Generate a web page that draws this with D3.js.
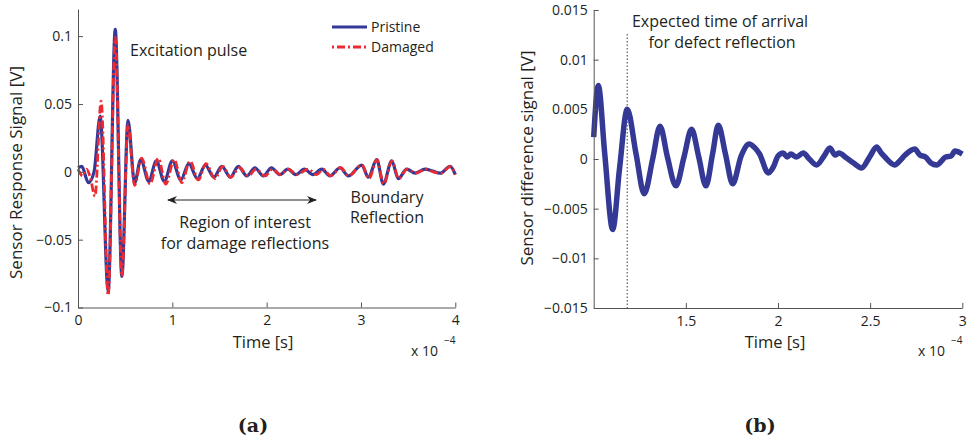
<!DOCTYPE html>
<html>
<head>
<meta charset="utf-8">
<script src="https://cdn.jsdelivr.net/npm/d3@7"></script>
<style>
  body { margin: 0; background: #fff; }
  text { font-family: "Open Sans", "Noto Sans", sans-serif; fill: #231f20; }
  .axis path, .axis line { stroke: #555; }
  .axis text { font-size: 14px; font-family: "Open Sans", "Noto Sans", sans-serif; fill: #231f20; }
</style>
</head>
<body>
<div class="forSvg"></div>
<script>
// -DATA-
// panel (a): time in units of 1e-4 s, signal in V (peaks / troughs)
const pristineT = [0, 0.04, 0.11, 0.17, 0.235, 0.32, 0.395, 0.465, 0.53, 0.6, 0.665, 0.75, 0.83, 0.915, 1.0, 1.09, 1.175, 1.265, 1.35, 1.44, 1.525, 1.615, 1.70, 1.79, 1.875, 1.965, 2.05, 2.14, 2.225, 2.31, 2.40, 2.49, 2.584, 2.672, 2.778, 2.866, 3.008, 3.078, 3.167, 3.237, 3.326, 3.396, 3.485, 3.574, 3.68, 3.76, 3.839, 3.945, 4.0];
const pristineV = [0.003, 0.004, -0.008, 0.0, 0.041, -0.088, 0.105, -0.077, 0.038, -0.008, 0.009, -0.007, 0.008, -0.007, 0.008, -0.006, 0.006, -0.005, 0.005, -0.004, 0.004, -0.004, 0.004, -0.003, 0.003, -0.003, 0.003, -0.002, 0.002, -0.002, 0.002, -0.002, 0.002, -0.003, 0.003, -0.003, 0.005, -0.004, 0.009, -0.009, 0.008, -0.005, 0.002, -0.001, 0.002, 0.0005, -0.001, 0.004, -0.002];

const damagedT = [0, 0.05, 0.09, 0.13, 0.18, 0.245, 0.32, 0.395, 0.465, 0.53, 0.6, 0.675, 0.764, 0.852, 0.93, 1.02, 1.1, 1.188, 1.276, 1.357, 1.453, 1.534, 1.619, 1.71, 1.806, 1.888, 1.983, 2.064, 2.142, 2.23, 2.319, 2.44, 2.53, 2.6, 2.68, 2.785, 2.87, 3.01, 3.085, 3.17, 3.24, 3.33, 3.40, 3.49, 3.58, 3.685, 3.765, 3.845, 3.95, 4.0];
const damagedV = [0.002, -0.003, 0.002, -0.004, -0.018, 0.052, -0.091, 0.099, -0.077, 0.035, -0.010, 0.010, -0.009, 0.010, -0.009, 0.009, -0.008, 0.008, -0.006, 0.006, -0.005, 0.004, -0.004, 0.003, -0.003, 0.002, -0.003, 0.002, -0.002, 0.002, -0.002, 0.002, -0.002, 0.002, -0.003, 0.003, -0.003, 0.005, -0.005, 0.009, -0.009, 0.008, -0.005, 0.002, -0.001, 0.002, 0.0, -0.001, 0.004, -0.002];

// panel (b): difference signal (with the small wiggles of the noisy tail)
const diffT = [1.0, 1.025, 1.06, 1.103, 1.14, 1.182, 1.23, 1.274, 1.32, 1.36, 1.40, 1.446, 1.49, 1.531, 1.57, 1.609, 1.645, 1.676, 1.715, 1.754, 1.80, 1.844, 1.87, 1.90, 1.947, 1.975, 2.0, 2.028, 2.05, 2.07, 2.10, 2.137, 2.17, 2.209, 2.25, 2.281, 2.31, 2.33, 2.372, 2.41, 2.453, 2.50, 2.535, 2.56, 2.58, 2.634, 2.66, 2.69, 2.742, 2.77, 2.80, 2.83, 2.86, 2.91, 2.94, 2.96, 3.0];
const diffV = [0.0022, 0.0074, 0.0005, -0.0071, -0.001, 0.0050, 0.0005, -0.0035, 0.0, 0.0033, 0.0002, -0.0027, 0.0002, 0.0030, 0.0002, -0.0027, 0.0005, 0.0034, 0.0005, -0.0025, 0.0003, 0.0015, 0.0012, 0.0005, -0.0014, -0.0008, 0.0003, 0.0006, 0.0002, 0.0005, 0.0002, 0.0006, 0.0, -0.0006, 0.0003, 0.0011, 0.0004, 0.0006, 0.0001, -0.0004, -0.0009, 0.0003, 0.0012, 0.0006, 0.0002, -0.0006, -0.0002, 0.0004, 0.0010, 0.0004, 0.0002, -0.0004, -0.0006, 0.0002, 0.0003, 0.0008, 0.0005];

// tick values
const ticksAx = [0, 1, 2, 3, 4];
const ticksAy = [-0.1, -0.05, 0, 0.05, 0.1];
const ticksBx = [1.5, 2, 2.5, 3];
const ticksBy = [-0.015, -0.01, -0.005, 0, 0.005, 0.01, 0.015];

// defect arrival line in panel (b)
const arrivalT = 1.182;

// -CREATE VARIABLES-
const svg_w = 967;
const svg_h = 446;

const blue = "#333995";
const red = "#ec2a32";

// tick label with a real minus sign
const fmt = d => d < 0 ? "\u2212" + String(Math.abs(d)) : String(d);

const svg = d3.select(".forSvg")
    .append("svg")
    .attr("width", svg_w)
    .attr("height", svg_h);

svg.append("rect").attr("width", svg_w).attr("height", svg_h).attr("fill", "#fff");

// arrow marker
const defs = svg.append("defs");
defs.append("marker")
    .attr("id", "arrow")
    .attr("viewBox", "0 0 10 10")
    .attr("refX", 9).attr("refY", 5)
    .attr("markerWidth", 10).attr("markerHeight", 10)
    .attr("markerUnits", "userSpaceOnUse")
    .attr("orient", "auto-start-reverse")
    .append("path")
    .attr("d", "M0,1 L10,5 L0,9 L3,5 Z")
    .attr("fill", "#231f20");

// -PANEL A-
const xA = d3.scaleLinear().domain([0, 4]).range([78, 455.3]);
const yA = d3.scaleLinear().domain([-0.1, 0.12]).range([307.5, 9]);

const lineA = d3.line()
    .x(d => xA(d[0]))
    .y(d => yA(d[1]))
    .curve(d3.curveMonotoneX);

svg.append("path")
    .datum(d3.zip(pristineT, pristineV))
    .attr("d", lineA)
    .attr("fill", "none")
    .attr("stroke", blue)
    .attr("stroke-width", 3.2);

svg.append("path")
    .datum(d3.zip(damagedT, damagedV))
    .attr("d", lineA)
    .attr("fill", "none")
    .attr("stroke", red)
    .attr("stroke-width", 2.8)
    .attr("stroke-dasharray", "8,3,2,3");

svg.append("g")
    .attr("class", "axis")
    .attr("transform", "translate(0," + yA(-0.1) + ")")
    .call(d3.axisBottom(xA).tickValues(ticksAx).tickFormat(fmt).tickSizeInner(-5).tickSizeOuter(0).tickPadding(8));

svg.append("g")
    .attr("class", "axis")
    .attr("transform", "translate(" + xA(0) + ",0)")
    .call(d3.axisLeft(yA).tickValues(ticksAy).tickFormat(fmt).tickSizeInner(-5).tickSizeOuter(0).tickPadding(6));

// labels a
svg.append("text")
    .attr("transform", "translate(22," + yA(-0.0005) + ") rotate(-90)")
    .attr("text-anchor", "middle")
    .attr("font-size", "17px")
    .text("Sensor Response Signal [V]");

svg.append("text")
    .attr("x", 263).attr("y", 348)
    .attr("text-anchor", "middle")
    .attr("font-size", "16.5px")
    .text("Time [s]");

svg.append("text").attr("x", 411).attr("y", 356).attr("font-size", "14px").text("x 10");
svg.append("text").attr("x", 444).attr("y", 344).attr("font-size", "10px").text("\u22124");

// legend
const legend = svg.append("g").attr("transform", "translate(332,0)");
legend.append("line").attr("x1", 0).attr("x2", 35).attr("y1", 27).attr("y2", 27)
    .attr("stroke", blue).attr("stroke-width", 3);
legend.append("line").attr("x1", 0).attr("x2", 35).attr("y1", 47).attr("y2", 47)
    .attr("stroke", red).attr("stroke-width", 2.8).attr("stroke-dasharray", "2,3,8,3");
legend.append("text").attr("x", 39).attr("y", 32).attr("font-size", "14px").text("Pristine");
legend.append("text").attr("x", 39).attr("y", 52).attr("font-size", "14px").text("Damaged");

// annotations a
svg.append("text").attr("x", 130).attr("y", 56).attr("font-size", "16px").text("Excitation pulse");

svg.append("line")
    .attr("x1", 168).attr("x2", 316).attr("y1", 200).attr("y2", 200)
    .attr("stroke", "#231f20").attr("stroke-width", 1)
    .attr("marker-start", "url(#arrow)")
    .attr("marker-end", "url(#arrow)");

svg.append("text").attr("x", 245).attr("y", 228).attr("text-anchor", "middle").attr("font-size", "16px").text("Region of interest");
svg.append("text").attr("x", 245).attr("y", 249).attr("text-anchor", "middle").attr("font-size", "16px").text("for damage reflections");
svg.append("text").attr("x", 387).attr("y", 203).attr("text-anchor", "middle").attr("font-size", "16px").text("Boundary");
svg.append("text").attr("x", 387).attr("y", 223).attr("text-anchor", "middle").attr("font-size", "16px").text("Reflection");

// -PANEL B-
const xB = d3.scaleLinear().domain([1.0, 3.0]).range([593.7, 962.3]);
const yB = d3.scaleLinear().domain([-0.015, 0.015]).range([308, 10]);

// dotted line for expected arrival
svg.append("line")
    .attr("x1", xB(arrivalT)).attr("x2", xB(arrivalT))
    .attr("y1", 34).attr("y2", yB(-0.015))
    .attr("stroke", "#666").attr("stroke-width", 1.3)
    .attr("stroke-dasharray", "1.5,2");

const lineB = d3.line()
    .x(d => xB(d[0]))
    .y(d => yB(d[1]))
    .curve(d3.curveMonotoneX);

svg.append("path")
    .datum(d3.zip(diffT, diffV))
    .attr("d", lineB)
    .attr("fill", "none")
    .attr("stroke", blue)
    .attr("stroke-width", 5.5)
    .attr("stroke-linejoin", "round");

svg.append("g")
    .attr("class", "axis")
    .attr("transform", "translate(0," + yB(-0.015) + ")")
    .call(d3.axisBottom(xB).tickValues(ticksBx).tickFormat(fmt).tickSizeInner(-5).tickSizeOuter(0).tickPadding(8));

svg.append("g")
    .attr("class", "axis")
    .attr("transform", "translate(" + xB(1.0) + ",0)")
    .call(d3.axisLeft(yB).tickValues(ticksBy).tickFormat(fmt).tickSizeInner(-5).tickSizeOuter(0).tickPadding(6));

svg.append("text")
    .attr("transform", "translate(533,158) rotate(-90)")
    .attr("text-anchor", "middle")
    .attr("font-size", "17px")
    .text("Sensor difference signal [V]");

svg.append("text")
    .attr("x", 775).attr("y", 348)
    .attr("text-anchor", "middle")
    .attr("font-size", "16.5px")
    .text("Time [s]");

svg.append("text").attr("x", 918).attr("y", 356).attr("font-size", "14px").text("x 10");
svg.append("text").attr("x", 951).attr("y", 344).attr("font-size", "10px").text("\u22124");

svg.append("text").attr("x", 720).attr("y", 27).attr("text-anchor", "middle").attr("font-size", "16px").text("Expected time of arrival");
svg.append("text").attr("x", 722).attr("y", 48).attr("text-anchor", "middle").attr("font-size", "16px").text("for defect reflection");

// -CAPTIONS-
svg.append("text").attr("x", 253).attr("y", 432).attr("text-anchor", "middle")
    .style("font-family", "'DejaVu Serif', 'Liberation Serif', serif").attr("font-weight", "bold").attr("font-size", "19px").text("(a)");
svg.append("text").attr("x", 760).attr("y", 432).attr("text-anchor", "middle")
    .style("font-family", "'DejaVu Serif', 'Liberation Serif', serif").attr("font-weight", "bold").attr("font-size", "19px").text("(b)");
</script>
</body>
</html>
